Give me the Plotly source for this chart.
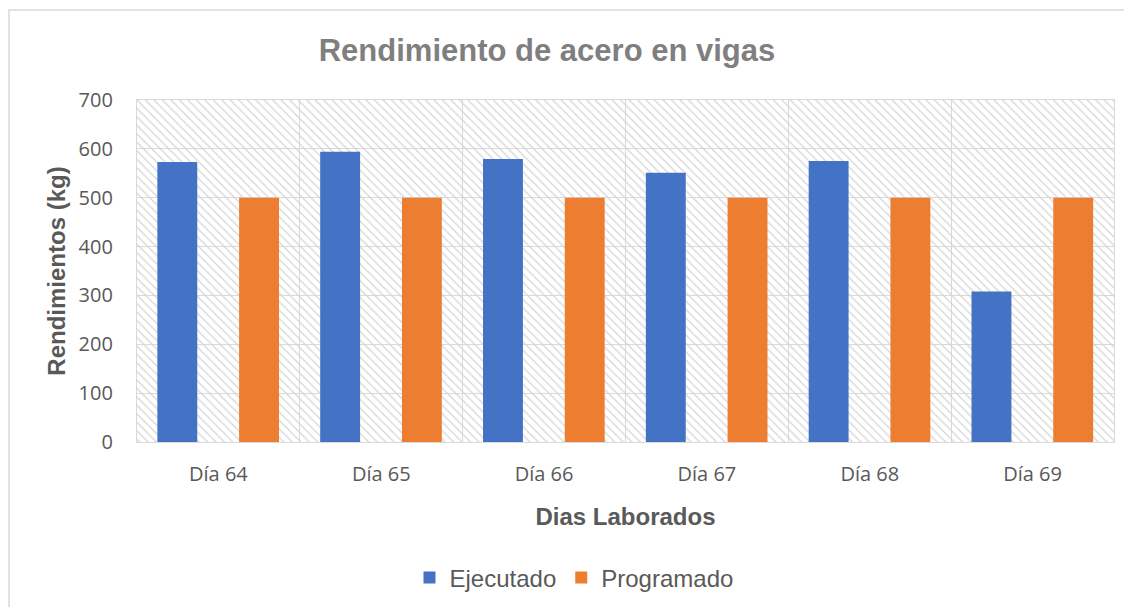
import plotly.graph_objects as go

categories = ["Día 64", "Día 65", "Día 66", "Día 67", "Día 68", "Día 69"]
ejecutado = [573, 594, 579, 551, 575, 308]
programado = [500, 500, 500, 500, 500, 500]
y_ticks = [0, 100, 200, 300, 400, 500, 600, 700]

W, H = 1132, 607
OFF = 8  # page body margin
L, R, T, B = 137 - OFF, 1114 - OFF, 100 - OFF, 442 - OFF
pw, ph = R - L, B - T

def px_x(p):
    return (p - OFF - L) / pw

def px_y(p):
    return (B - (p - OFF)) / ph

fig = go.Figure()

# hatched plot-area background
fig.add_trace(go.Bar(
    x=[categories[0]], y=[y_ticks[-1]], base=[0], offset=-0.5, width=len(categories),
    marker=dict(color="#d6d6d6", line=dict(width=0),
                pattern=dict(shape="\\", size=6, solidity=0.22, fillmode="replace")),
    showlegend=False, hoverinfo="skip",
))

fig.add_trace(go.Bar(
    x=categories, y=ejecutado, name="Ejecutado",
    marker=dict(color="#4472c4", line=dict(width=0)),
    offset=-0.375, width=0.245,
))
fig.add_trace(go.Bar(
    x=categories, y=programado, name="Programado",
    marker=dict(color="#ed7d31", line=dict(width=0)),
    offset=0.127, width=0.245,
))

grid = "#d9d9d9"
fig.update_layout(
    width=W, height=H,
    margin=dict(l=L, r=W - R, t=T, b=H - B, autoexpand=False),
    paper_bgcolor="white", plot_bgcolor="white",
    barmode="overlay",
    title=dict(text="<b>Rendimiento de acero en vigas</b>", xref="container", yref="container",
               x=(547 - OFF) / W, y=1 - (50 - OFF) / H, xanchor="center", yanchor="middle",
               font=dict(family="Liberation Sans, Arial", size=31, color="#7f7f7f")),
    xaxis=dict(type="category", tickson="boundaries", showgrid=True, gridcolor=grid, gridwidth=1.3,
               showline=True, linecolor=grid, linewidth=1.3, mirror=True,
               ticks="", ticklabelstandoff=14,
               tickfont=dict(family="Open Sans", size=20, color="#595959"),
               range=[-0.5, len(categories) - 0.5],
               title=dict(text="<b>Dias Laborados</b>", standoff=22,
                          font=dict(family="Liberation Sans, Arial", size=24, color="#595959"))),
    yaxis=dict(range=[0, 700], tickvals=y_ticks, showgrid=True, gridcolor=grid, gridwidth=1.3,
               zeroline=True, zerolinecolor=grid, zerolinewidth=1.3,
               showline=True, linecolor=grid, linewidth=1.3, mirror=True,
               ticks="outside", ticklen=19, tickcolor="rgba(0,0,0,0)",
               tickfont=dict(family="Open Sans", size=20, color="#595959"),
               title=dict(text="<b>Rendimientos (kg)</b>", standoff=6,
                          font=dict(family="Liberation Sans, Arial", size=24, color="#595959"))),
    legend=dict(orientation="h", x=px_x(574), y=px_y(578), xanchor="center", yanchor="middle",
                font=dict(family="Liberation Sans, Arial", size=24, color="#595959"),
                itemwidth=30, traceorder="normal"),
    shapes=[dict(type="rect", xref="paper", yref="paper",
                 x0=px_x(9), x1=px_x(1160), y0=px_y(640), y1=px_y(10),
                 line=dict(color="#d9d9d9", width=1.5), fillcolor="rgba(0,0,0,0)", layer="below")],
)

fig.write_html("out.html")
